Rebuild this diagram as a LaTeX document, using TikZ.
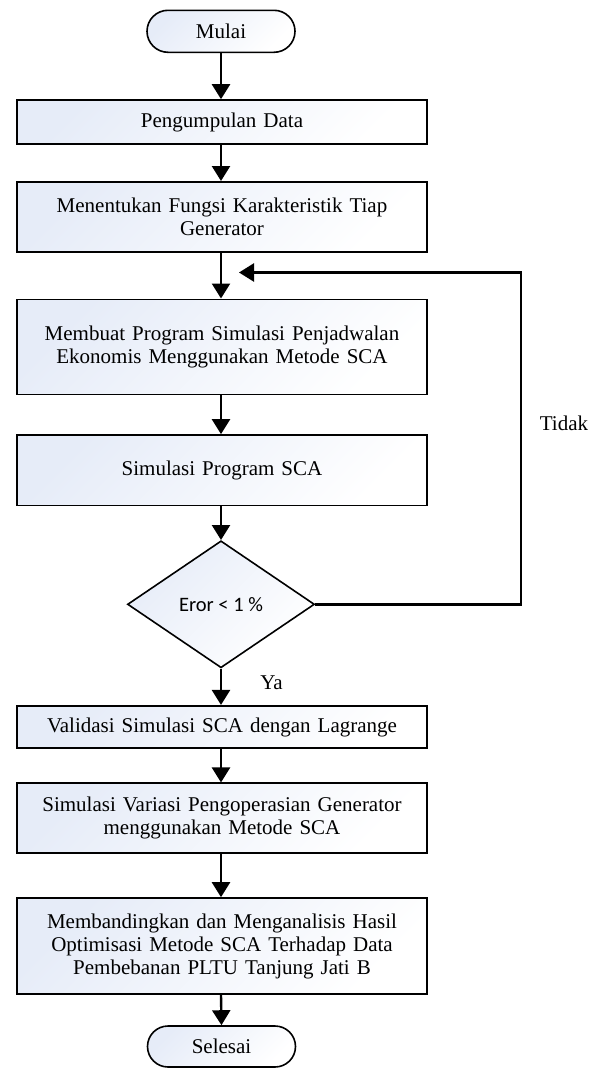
\documentclass[tikz,border=0pt]{standalone}
\usepackage{fontspec}
\setmainfont{Liberation Serif}
\newfontfamily\tnr{Liberation Serif}
\newfontfamily\calib{Carlito}
\usetikzlibrary{arrows.meta,shapes.geometric,shapes.misc}
\definecolor{fillblue}{HTML}{E6ECF8}
\begin{document}
\begin{tikzpicture}[x=1pt,y=-1pt,
  every node/.style={font=\tnr\fontsize{21}{23}\selectfont},
  shadefill/.style={top color=fillblue, bottom color=white, shading angle=45},
  procbox/.style={draw=black, line width=1.6pt, shadefill, rectangle,
    minimum width=410pt, inner sep=0pt, align=center, text width=400pt},
  termbox/.style={draw=black, line width=1.6pt, shadefill, rounded rectangle,
    minimum width=148pt, minimum height=42pt, inner sep=0pt},
  decbox/.style={draw=black, line width=1.6pt, shadefill, diamond,
    minimum width=187pt, minimum height=127pt, inner sep=0pt, font=\calib\fontsize{20.5}{23}\selectfont},
  flow/.style={line width=2.4pt, -{Triangle[length=15pt,width=18pt]}},
  lbl/.style={inner sep=0pt}
]
\useasboundingbox (0,0) rectangle (595,1068);

\node[termbox] (start) at (221,31.3) {Mulai};
\node[procbox, minimum height=44pt] (b1) at (222,122) {Pengumpulan Data};
\node[procbox, minimum height=70pt] (b2) at (222,216.8) {Menentukan Fungsi Karakteristik Tiap\\Generator};
\node[procbox, minimum height=95pt] (b3) at (222,346.8) {Membuat Program Simulasi Penjadwalan\\Ekonomis Menggunakan Metode SCA};
\node[procbox, minimum height=70.5pt] (b4) at (222,470.2) {Simulasi Program SCA};
\node[decbox] (d) at (221,604.3) {Eror < 1 \%};
\node[procbox, minimum height=42.5pt] (b5) at (222,727) {Validasi Simulasi SCA dengan Lagrange};
\node[procbox, minimum height=69.5pt] (b6) at (222,818) {Simulasi Variasi Pengoperasian Generator\\menggunakan Metode SCA};
\node[procbox, minimum height=96pt] (b7) at (222,946) {Membandingkan dan Menganalisis Hasil\\Optimisasi Metode SCA Terhadap Data\\Pembebanan PLTU Tanjung Jati B};
\node[termbox, minimum height=41pt] (end) at (221.5,1046.5) {Selesai};

\coordinate (loopR) at (520.7,604.3);
\coordinate (loopT) at (520.7,272.5);
\coordinate (loopTip) at (239,272.5);

\draw[flow] (start.south -| 221,0) -- (b1.north -| 221,0);
\draw[flow] (b1.south -| 221,0) -- (b2.north -| 221,0);
\draw[flow] (b2.south -| 221,0) -- (b3.north -| 221,0);
\draw[flow] (b3.south -| 221,0) -- (b4.north -| 221,0);
\draw[flow] (b4.south -| 221,0) -- (d.north);
\draw[flow] (d.south) -- (b5.north -| 221,0);
\draw[flow] (b5.south -| 221,0) -- (b6.north -| 221,0);
\draw[flow] (b6.south -| 221,0) -- (b7.north -| 221,0);
\draw[flow] (b7.south -| 221,0) -- (end.north);
\draw[flow] (d.east) -- (loopR) -- (loopT) -- (loopTip);

\node[lbl] (tidak) at (564,423) {Tidak};
\node[lbl] (ya) at (271.5,683) {Ya};
\end{tikzpicture}
\end{document}
